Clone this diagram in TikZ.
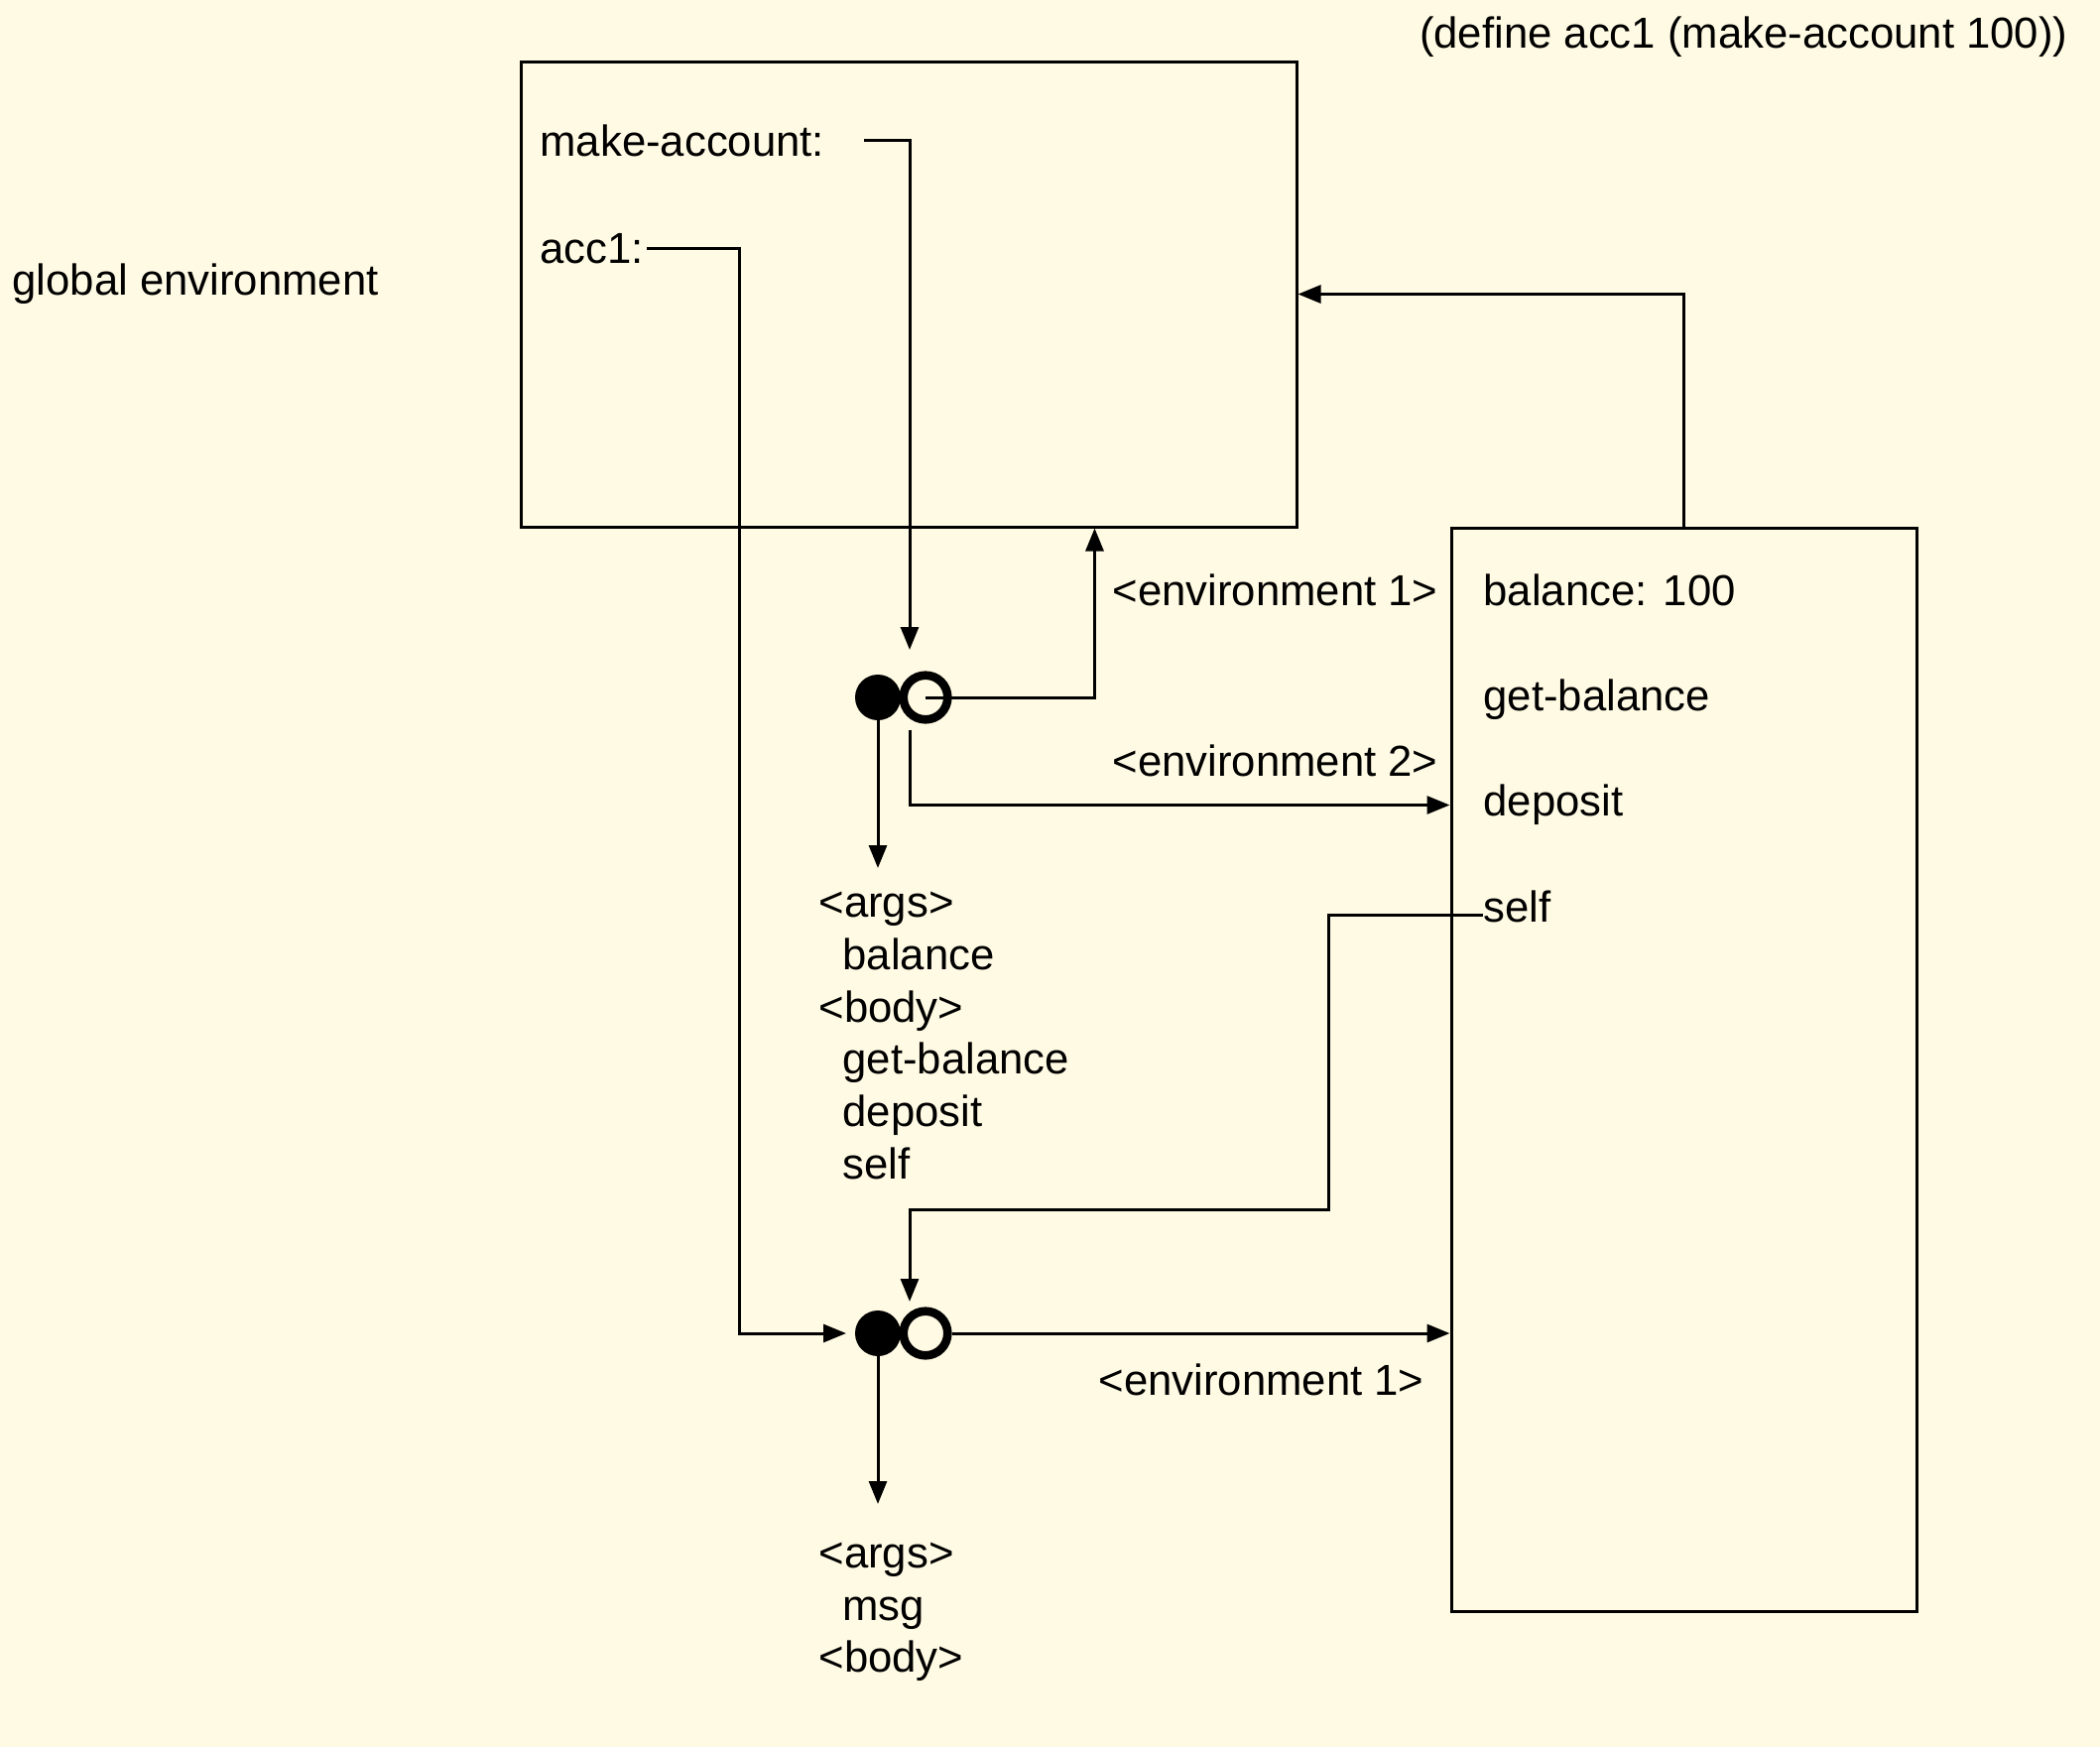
\documentclass[tikz,border=0pt]{standalone}
\usepackage{fontspec}
\setmainfont{Liberation Sans}
\usetikzlibrary{arrows.meta,calc}
\definecolor{paper}{RGB}{255,250,227}

\begin{document}
\begin{tikzpicture}[
  x=0.5pt, y=-0.5pt,
  line width=1.5pt,
  lbl/.style={anchor=base west, inner sep=0pt, font=\fontsize{21.85}{26.3}\selectfont},
  frame/.style={rectangle, draw, line width=1.5pt, inner sep=0pt},
  dot/.style={circle, fill, minimum size=23pt, inner sep=0pt, outer sep=0pt},
  ring/.style={circle, draw, line width=4.3pt, minimum size=22.3pt, inner sep=0pt},
  arr/.style={-{Triangle[length=11.5pt,width=9pt]}}
]
\fill[paper] (0,0) rectangle (2117,1761);
\useasboundingbox (0,0) rectangle (2117,1761);

% frames
\node[frame, minimum width=391pt, minimum height=234.5pt] (gframe) at (916,296.5) {};
\node[frame, minimum width=234.5pt, minimum height=546pt] (eframe) at (1697.5,1078) {};

% labels
\node[lbl] (globallbl) at (11,297) {global environment};
\node[lbl, anchor=base east] (define) at (2086,48) {(define acc1 (make-account 100))};
\node[lbl] (mkacc) at (543,157) {make-account:};
\node[lbl] (acc1) at (543,265) {acc1:};
\node[lbl] (env1a) at (1120,610) {<environment 1>};
\node[lbl] (env2) at (1120,782) {<environment 2>};
\node[lbl] (env1b) at (1106,1406) {<environment 1>};

% bindings in the new frame
\node[lbl] (balance) at (1494,610) {balance: 100};
\node[lbl] (getbal) at (1494,716) {get-balance};
\node[lbl] (deposit) at (1494,822) {deposit};
\node[lbl] (self) at (1494,929) {self};

% procedure texts
\node[lbl] (args1) at (824,924) {<args>};
\node[lbl] (par1) at (848,977) {balance};
\node[lbl] (body1) at (824,1030) {<body>};
\node[lbl] (b1a) at (848,1082) {get-balance};
\node[lbl] (b1b) at (848,1135) {deposit};
\node[lbl] (b1c) at (848,1188) {self};
\node[lbl] (args2) at (824,1580) {<args>};
\node[lbl] (par2) at (848,1633) {msg};
\node[lbl] (body2) at (824,1685) {<body>};

% procedure objects
\node[dot] (dot1) at (885,703) {};
\node[ring] (ring1) at (933,703) {};
\node[dot] (dot2) at (885,1344) {};
\node[ring] (ring2) at (933,1344) {};

\coordinate (mkval) at (871,141);
\coordinate (acc1val) at (652,250);
\coordinate (acc1turn) at (745,250);
\coordinate (selfval) at (1495,922);
\coordinate (selfturn) at (1339,1219);

% pointers
\draw[arr, shorten >=10.7pt] (mkval) -| ([xshift=-8pt]ring1.north);
\draw[arr] (ring1.center) -| ($(gframe.south west)+(580,0)$);
\draw[arr] ([xshift=-8pt,yshift=-3pt]ring1.south) |- ($(eframe.north west)+(0,281)$);
\draw[arr] (dot1.center) -- ++(0,172);
\draw[arr] (eframe.north) |- (gframe.east);
\draw[arr, shorten >=4.5pt] (acc1val) -- (acc1turn) |- (dot2.west);
\draw[arr, shorten >=2.7pt] (selfval) -| (selfturn) -| ([xshift=-8pt]ring2.north);
\draw[arr] (ring2.east) -- (ring2.east -| eframe.west);
\draw[arr] (dot2.center) -- ++(0,172);
\end{tikzpicture}
\end{document}
